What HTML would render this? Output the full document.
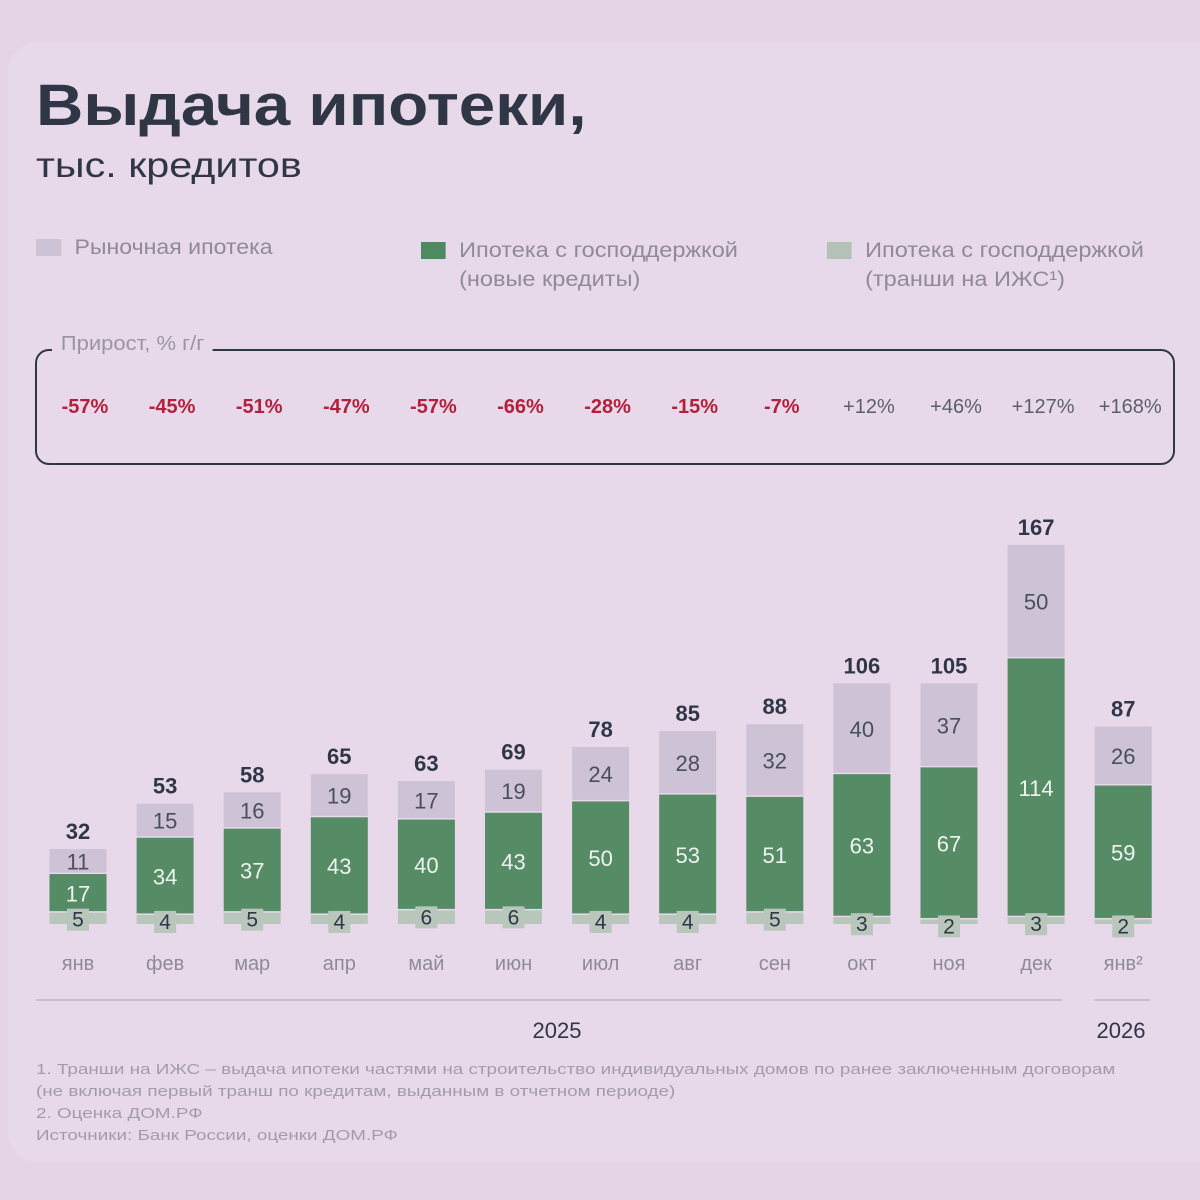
<!DOCTYPE html>
<html><head><meta charset="utf-8">
<style>
html,body{margin:0;padding:0}
body{width:1200px;height:1200px;background:#e4d4e6;font-family:"Liberation Sans","Noto Sans CJK SC",sans-serif;position:relative;overflow:hidden}
.panel{position:absolute;left:8px;top:42px;width:1200px;height:1120px;background:#e8d9ea;border-radius:30px 0 0 30px}
.abs{position:absolute;transform-origin:0 0;white-space:nowrap}
</style></head>
<body>
<div class="panel"></div>
<div class="abs" style="left:36px;top:72px;font-size:58px;font-weight:bold;color:#2f3746;transform:scaleX(1.13)">Выдача ипотеки,</div>
<div class="abs" style="left:36px;top:146px;font-size:35px;color:#2f3746;transform:scaleX(1.18)">тыс. кредитов</div>

<div class="abs" style="left:36px;top:236px;font-size:21px;color:#8f8a98;transform:scaleX(1.1)"><span style="display:inline-block;width:23px;height:17px;background:#cdc2d6;vertical-align:-2px;margin-right:12px"></span>Рыночная ипотека</div>
<div class="abs" style="left:421px;top:236px;font-size:21px;color:#8f8a98;line-height:29px;transform:scaleX(1.12)"><span style="display:inline-block;width:22px;height:17px;background:#4e8a60;vertical-align:-2px;margin-right:12px"></span>Ипотека с господдержкой<br><span style="margin-left:34px">(новые кредиты)</span></div>
<div class="abs" style="left:827px;top:236px;font-size:21px;color:#8f8a98;line-height:29px;transform:scaleX(1.12)"><span style="display:inline-block;width:22px;height:17px;background:#b3c2b6;vertical-align:-2px;margin-right:12px"></span>Ипотека с господдержкой<br><span style="margin-left:34px">(транши на ИЖС¹)</span></div>

<div class="abs" style="left:35px;top:349px;width:1136px;height:112px;border:2.5px solid #2f3746;border-radius:14px"></div>
<div class="abs" style="left:52px;top:333px;padding:0 8px;background:#e8d9ea;font-size:20px;color:#9a95a2;transform:scaleX(1.1)">Прирост, % г/г</div>

<svg class="abs" style="left:0;top:0" width="1200" height="1200" id="chart"></svg>

<div class="abs" style="left:36px;top:1059px;font-size:14.5px;color:#a29ca8;line-height:22px;transform:scaleX(1.3)">1. Транши на ИЖС – выдача ипотеки частями на строительство индивидуальных домов по ранее заключенным договорам<br>(не включая первый транш по кредитам, выданным в отчетном периоде)<br>2. Оценка ДОМ.РФ<br>Источники: Банк России, оценки ДОМ.РФ</div>

<script>
const months = ["янв","фев","мар","апр","май","июн","июл","авг","сен","окт","ноя","дек","янв²"];
const market = [11,15,16,19,17,19,24,28,32,40,37,50,26];
const govNew = [17,34,37,43,40,43,50,53,51,63,67,114,59];
const tranche = [5,4,5,4,6,6,4,4,5,3,2,3,2];
const totals = [32,53,58,65,63,69,78,85,88,106,105,167,87];
const growth = ["-57%","-45%","-51%","-47%","-57%","-66%","-28%","-15%","-7%","+12%","+46%","+127%","+168%"];

const svg = document.getElementById('chart');
const NS = 'http://www.w3.org/2000/svg';
const base = 924, k = 2.27, barW = 57;
const x = i => 78 + i * 87.1;
const y = v => base - v * k;
function el(tag, attrs, text){
  const e = document.createElementNS(NS, tag);
  for (const a in attrs) e.setAttribute(a, attrs[a]);
  if (text !== undefined) e.textContent = text;
  svg.appendChild(e);
  return e;
}
months.forEach((m, i) => {
  const cx = x(i), x0 = cx - barW/2;
  const t = tranche[i], g = govNew[i], mk = market[i];
  const r1 = el('rect', {x:x0, y:y(t), width:barW, height:t*k, fill:'#b8c6bb'});
  
  
  const r2 = el('rect', {x:x0, y:y(t+g), width:barW, height:g*k - 1.5, fill:'#558c66'});
  
  
  const r3 = el('rect', {x:x0, y:y(t+g+mk), width:barW, height:mk*k - 1.5, fill:'#cdc2d6'});
  
  
  const lb = el('rect', {x:cx-11, y:y(t)-4, width:22, height:22, fill:'#b8c6bb'});
  
  
  const tl = el('text', {x:cx, y:y(t)+14, 'text-anchor':'middle', 'font-size':21, fill:'#2f3746'}, t);
  
  
  const gl = el('text', {x:cx, y:y(t + g/2)+8, 'text-anchor':'middle', 'font-size':22, fill:'#eef3ee'}, g);
  
  
  const ml = el('text', {x:cx, y:y(t + g + mk/2)+8, 'text-anchor':'middle', 'font-size':22, fill:'#4a4f5c'}, mk);
  
  
  const tt = el('text', {x:cx, y:y(t+g+mk)-10, 'text-anchor':'middle', 'font-size':22, 'font-weight':'bold', fill:'#2f3746'}, totals[i]);
  
  
  const ml2 = el('text', {x:cx, y:970, 'text-anchor':'middle', 'font-size':20, fill:'#8f8a98'}, m);
  
  
  const gr = el('text', {x:cx+7, y:413, 'text-anchor':'middle', 'font-size':20, 'font-weight': growth[i][0]==='-'?'bold':'normal', fill: growth[i][0]==='-' ? '#b3203c' : '#5a5f6c'}, growth[i]);
  
  
});
const l1 = el('line', {x1:36, y1:1000, x2:1062, y2:1000, stroke:'#cbbccf', 'stroke-width':2});


const l2 = el('line', {x1:1094, y1:1000, x2:1150, y2:1000, stroke:'#cbbccf', 'stroke-width':2});


const y1 = el('text', {x:557, y:1038, 'text-anchor':'middle', 'font-size':22, fill:'#2f3746'}, '2025');


const y2 = el('text', {x:1121, y:1038, 'text-anchor':'middle', 'font-size':22, fill:'#2f3746'}, '2026');


</script>
</body></html>
